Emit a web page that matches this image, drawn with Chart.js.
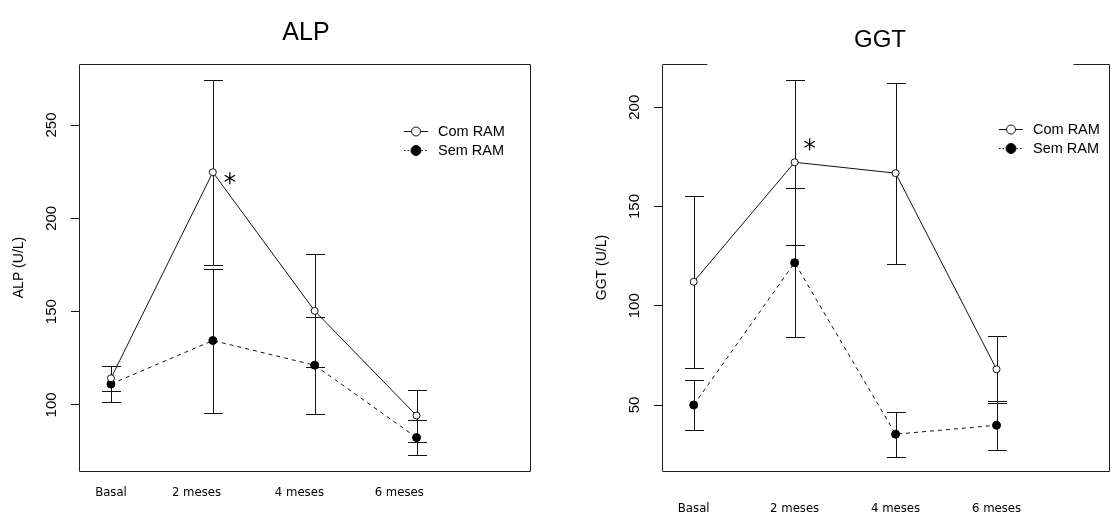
<!DOCTYPE html>
<html>
<head>
<meta charset="utf-8">
<script src="https://cdn.jsdelivr.net/npm/chart.js@4.4.0/dist/chart.umd.min.js"></script>
<style>
  html, body { margin: 0; padding: 0; background: #fff; overflow: hidden; }
  #wrap { position: relative; width: 1114px; height: 516px; }
  canvas { position: absolute; top: 0; }
  #alpChart { left: 0; }
  #ggtChart { left: 557px; }
</style>
</head>
<body>
<div id="wrap">
  <canvas id="alpChart" width="557" height="516"></canvas>
  <canvas id="ggtChart" width="557" height="516"></canvas>
</div>
<script>
const timeLabels = ['Basal', '2 meses', '4 meses', '6 meses'];
const seriesNames = ['Com RAM', 'Sem RAM'];

// ALP (U/L): mean and sd per time point
const alpComMean = [114.3, 224.7, 150.4, 94.3];
const alpComSd = [6.6, 49.5, 30.3, 13.9];
const alpSemMean = [111.2, 134.5, 121.3, 82.5];
const alpSemSd = [9.6, 38.6, 26.0, 9.3];
const alpTicks = [100, 150, 200, 250];

// GGT (U/L)
const ggtComMean = [112.1, 172.3, 166.8, 68.0];
const ggtComSd = [43.4, 41.5, 45.6, 17.0];
const ggtSemMean = [50.0, 121.7, 35.3, 39.8];
const ggtSemSd = [12.5, 37.5, 11.4, 12.4];
const ggtTicks = [50, 100, 150, 200];

// time points marked as significant (Com RAM)
const alpStars = [1];
const ggtStars = [1];

const INK = '#111';
const SANS = '"Liberation Sans", Arial, sans-serif';
const NARROW = '"Liberation Sans Narrow", "DejaVu Sans Condensed", sans-serif';

function toPoints(values) {
    return values.map((v, i) => ({ x: i + 1, y: v }));
}

function drawStar(ctx, x, y, r) {
    ctx.beginPath();
    for (let k = 0; k < 3; k++) {
        const a = Math.PI / 2 + k * Math.PI / 3;
        ctx.moveTo(x - r * Math.cos(a), y - r * Math.sin(a));
        ctx.lineTo(x + r * Math.cos(a), y + r * Math.sin(a));
    }
    ctx.stroke();
}

// R-style extras: error bars, frame, rotated y labels, legend, title
const rPlot = {
    id: 'rPlot',
    beforeDatasetsDraw(chart, args, opts) {
        const ctx = chart.ctx, xs = chart.scales.x, ys = chart.scales.y;
        ctx.save();
        ctx.strokeStyle = INK;
        ctx.lineWidth = 1;
        chart.data.datasets.forEach(ds => {
            ds.data.forEach((p, i) => {
                const sd = ds.sd[i];
                const x = Math.round(xs.getPixelForValue(p.x)) + 0.5;
                const yLo = Math.round(ys.getPixelForValue(p.y - sd)) + 0.5;
                const yHi = Math.round(ys.getPixelForValue(p.y + sd)) + 0.5;
                ctx.beginPath();
                ctx.moveTo(x, yLo); ctx.lineTo(x, yHi);
                ctx.moveTo(x - 9.5, yLo); ctx.lineTo(x + 9.5, yLo);
                ctx.moveTo(x - 9.5, yHi); ctx.lineTo(x + 9.5, yHi);
                ctx.stroke();
            });
        });
        ctx.restore();
    },
    afterDraw(chart, args, opts) {
        const ctx = chart.ctx, ca = chart.chartArea;
        const xs = chart.scales.x, ys = chart.scales.y;
        const L = Math.round(ca.left) + 0.5, R = Math.round(ca.right) + 0.5;
        const T = Math.round(ca.top) + 0.5, B = Math.round(ca.bottom) + 0.5;
        ctx.save();
        ctx.strokeStyle = '#222';
        ctx.lineWidth = 1;

        // frame
        ctx.beginPath();
        ctx.moveTo(L, T); ctx.lineTo(L, B); ctx.lineTo(R, B); ctx.lineTo(R, T);
        if (opts.topGap) {
            ctx.lineTo(L + opts.topGap[1], T);
            ctx.moveTo(L + opts.topGap[0], T); ctx.lineTo(L, T);
        } else {
            ctx.lineTo(L, T);
        }
        ctx.stroke();

        ctx.fillStyle = '#000';

        // title
        ctx.font = opts.titleSize + 'px ' + SANS;
        ctx.textAlign = 'center';
        ctx.textBaseline = 'middle';
        ctx.fillText(opts.title, opts.titleX, opts.titleY);

        // rotated y tick labels and axis title
        ctx.font = '15px ' + SANS;
        ys.ticks.forEach(t => {
            ctx.save();
            ctx.translate(ca.left - 27, ys.getPixelForValue(t.value));
            ctx.rotate(-Math.PI / 2);
            ctx.fillText(String(t.value), 0, 0);
            ctx.restore();
        });
        ctx.font = '14px ' + SANS;
        ctx.save();
        ctx.translate(ca.left - 60, (ca.top + ca.bottom) / 2);
        ctx.rotate(-Math.PI / 2);
        ctx.fillText(opts.yTitle, 0, 0);
        ctx.restore();

        // significance stars
        ctx.strokeStyle = '#000';
        ctx.lineWidth = 1.3;
        const com = chart.data.datasets[0].data;
        opts.stars.forEach(i => {
            const px = xs.getPixelForValue(com[i].x) + opts.starOffset[0];
            const py = ys.getPixelForValue(com[i].y) + opts.starOffset[1];
            drawStar(ctx, px, py, 6);
        });

        // legend
        ctx.font = '14.5px ' + SANS;
        ctx.textAlign = 'left';
        chart.data.datasets.forEach((ds, k) => {
            const x0 = opts.legendX, y0 = opts.legendY[k] + 0.5;
            ctx.strokeStyle = INK;
            ctx.lineWidth = 1;
            ctx.setLineDash(k === 0 ? [] : [1.5, 2]);
            ctx.beginPath();
            ctx.moveTo(x0, y0); ctx.lineTo(x0 + 24, y0);
            ctx.stroke();
            ctx.setLineDash([]);
            ctx.beginPath();
            ctx.arc(x0 + 12, y0, k === 0 ? 4.5 : 5, 0, Math.PI * 2);
            ctx.fillStyle = k === 0 ? '#fff' : '#000';
            ctx.fill();
            ctx.stroke();
            ctx.fillStyle = '#000';
            ctx.fillText(ds.label, x0 + 34, y0);
        });
        ctx.restore();
    }
};

function buildChart(canvasId, cfg) {
    return new Chart(document.getElementById(canvasId), {
        type: 'line',
        data: {
            datasets: [
                {
                    label: seriesNames[0],
                    data: toPoints(cfg.comMean),
                    sd: cfg.comSd,
                    borderColor: INK,
                    borderWidth: 1,
                    pointRadius: 3.5,
                    pointBackgroundColor: '#fff',
                    pointBorderColor: INK,
                    pointBorderWidth: 1,
                    tension: 0,
                    fill: false
                },
                {
                    label: seriesNames[1],
                    data: toPoints(cfg.semMean),
                    sd: cfg.semSd,
                    borderColor: INK,
                    borderWidth: 1,
                    borderDash: [4, 4],
                    pointRadius: 4,
                    pointBackgroundColor: '#000',
                    pointBorderColor: '#000',
                    pointBorderWidth: 1,
                    tension: 0,
                    fill: false
                }
            ]
        },
        options: {
            responsive: false,
            animation: false,
            devicePixelRatio: 1,
            layout: { padding: { top: 64, left: 0, right: cfg.padRight, bottom: 0 } },
            scales: {
                x: {
                    type: 'linear',
                    min: 0.686,
                    max: 5.114,
                    // labels were placed by hand in the original, not always under the points
                    afterBuildTicks: scale => {
                        scale.ticks = cfg.labelAt.map(v => ({ value: v }));
                    },
                    afterFit: scale => { scale.height = 45; },
                    grid: { display: false, drawTicks: false },
                    border: { display: false },
                    ticks: {
                        autoSkip: false,
                        maxRotation: 0,
                        padding: cfg.labelPad,
                        color: '#000',
                        font: { family: NARROW, size: 13 },
                        callback: (value, index) => timeLabels[index]
                    }
                },
                y: {
                    type: 'linear',
                    min: cfg.yMin,
                    max: cfg.yMax,
                    afterBuildTicks: scale => {
                        scale.ticks = cfg.ticks.map(v => ({ value: v }));
                    },
                    afterFit: scale => { scale.width = cfg.axisLeft; },
                    grid: {
                        display: true,
                        drawOnChartArea: false,
                        drawTicks: true,
                        tickLength: 8,
                        color: INK,
                        lineWidth: 1
                    },
                    border: { display: false },
                    ticks: { display: false }
                }
            },
            plugins: {
                legend: { display: false },
                tooltip: { enabled: false },
                rPlot: cfg.extras
            }
        },
        plugins: [rPlot]
    });
}

buildChart('alpChart', {
    comMean: alpComMean, comSd: alpComSd,
    semMean: alpSemMean, semSd: alpSemSd,
    ticks: alpTicks, yMin: 64.6, yMax: 282.7,
    axisLeft: 79, padRight: 27, labelPad: 14,
    labelAt: [1, 1.84, 2.85, 3.83],
    extras: {
        title: 'ALP', titleSize: 25, titleX: 306, titleY: 33,
        yTitle: 'ALP (U/L)',
        stars: alpStars, starOffset: [17, 6],
        legendX: 404, legendY: [131, 150]
    }
});

buildChart('ggtChart', {
    comMean: ggtComMean, comSd: ggtComSd,
    semMean: ggtSemMean, semSd: ggtSemSd,
    ticks: ggtTicks, yMin: 16.75, yMax: 221.8,
    axisLeft: 105, padRight: 0, labelPad: 30,
    labelAt: [1, 2, 3, 4],
    extras: {
        title: 'GGT', titleSize: 24, titleX: 323, titleY: 40,
        yTitle: 'GGT (U/L)',
        stars: ggtStars, starOffset: [15, -18],
        legendX: 442, legendY: [129, 148],
        topGap: [45, 411]
    }
});
</script>
</body>
</html>
